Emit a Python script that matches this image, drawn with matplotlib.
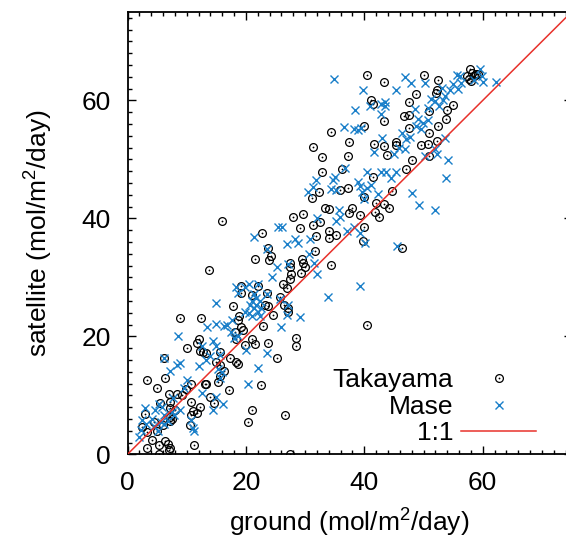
import matplotlib
matplotlib.use("Agg")
import matplotlib.pyplot as plt
from matplotlib.legend_handler import HandlerTuple
from matplotlib.ticker import MultipleLocator

plt.rcParams['font.family'] = ['Liberation Sans', 'DejaVu Sans']
plt.rcParams['mathtext.fontset'] = 'custom'
plt.rcParams['mathtext.rm'] = 'Liberation Sans'

# Takayama site (ground, satellite) pairs
takayama = [
    (40.4, 64.3), (50.0, 64.3), (43.3, 63.2), (52.5, 63.4), (57.8, 65.3),
    (58.2, 64.7), (58.8, 64.5), (59.2, 64.5), (58.6, 64.2), (58.0, 63.3),
    (57.7, 63.7), (57.3, 64.1), (41.1, 60.0), (41.5, 59.4), (52.1, 61.2),
    (52.3, 61.7), (48.8, 61.1), (47.5, 59.8), (50.9, 58.2), (55.0, 59.2),
    (54.0, 58.4), (43.4, 56.5), (46.7, 57.3), (47.6, 57.5), (47.5, 55.4),
    (53.8, 56.9), (52.5, 55.7), (51.0, 54.4), (39.9, 55.7), (34.3, 54.7),
    (37.4, 53.0), (41.6, 52.7), (43.3, 52.2), (45.4, 53.0), (45.4, 52.4),
    (49.5, 52.4), (50.8, 52.6), (52.2, 53.1), (51.0, 50.6), (48.0, 49.9),
    (47.1, 48.4), (43.9, 50.8), (31.4, 52.1), (32.9, 50.4), (37.3, 50.5),
    (36.3, 48.3), (32.9, 47.8), (41.4, 47.1), (44.6, 44.6), (35.9, 44.9),
    (37.3, 45.1), (32.3, 44.4), (31.1, 43.4), (40.0, 43.6), (41.9, 42.6),
    (43.3, 42.5), (44.2, 41.8), (33.3, 41.8), (34.0, 41.6), (37.9, 41.8),
    (37.4, 40.9), (39.3, 40.6), (41.8, 41.1), (42.4, 40.2), (29.7, 40.8),
    (28.0, 40.3), (29.1, 38.3), (31.3, 38.8), (32.5, 39.4), (31.9, 37.1),
    (34.0, 37.9), (34.0, 36.7), (35.3, 37.2), (39.9, 38.6), (39.7, 36.1),
    (46.4, 35.0), (16.0, 39.6), (22.8, 37.5), (23.8, 35.0), (21.5, 33.2),
    (24.3, 33.7), (23.9, 33.0), (27.4, 32.5), (27.4, 31.8), (29.4, 33.2),
    (29.7, 32.4), (29.9, 31.7), (29.3, 30.8), (31.7, 34.5), (34.4, 32.1),
    (13.7, 31.2), (27.7, 30.5), (27.5, 29.8), (26.2, 28.9), (26.9, 28.2),
    (25.8, 26.7), (26.5, 25.4), (27.1, 24.8), (27.1, 24.2), (19.1, 28.6),
    (19.2, 27.4), (17.9, 25.2), (21.1, 27.0), (22.1, 28.6), (23.5, 27.4),
    (23.3, 25.4), (23.8, 25.1), (24.5, 23.7), (22.9, 21.8), (18.9, 23.5),
    (18.6, 22.7), (19.1, 21.6), (19.5, 21.0), (18.2, 20.7), (18.3, 19.5),
    (19.8, 18.6), (21.1, 19.5), (21.5, 18.7), (23.7, 18.9), (25.2, 16.3),
    (28.5, 19.8), (28.5, 18.4), (8.9, 23.1), (12.4, 23.1), (12.0, 19.5),
    (11.7, 18.9), (10.0, 18.1), (12.3, 17.6), (12.7, 17.3), (13.2, 17.1),
    (15.6, 17.3), (15.0, 15.7), (15.6, 15.1), (17.3, 16.4), (18.3, 15.6),
    (18.6, 15.3), (6.1, 16.4), (6.3, 13.0), (3.3, 12.6), (5.0, 11.2),
    (5.5, 8.7), (7.0, 10.3), (8.4, 10.3), (7.1, 8.8), (7.2, 7.8),
    (7.1, 6.3), (7.1, 5.7), (9.2, 10.1), (9.8, 11.1), (10.7, 12.0),
    (10.7, 8.8), (11.0, 7.3), (10.7, 6.6), (11.7, 7.0), (12.3, 8.0),
    (10.6, 4.9), (11.2, 1.6), (13.2, 12.0), (13.1, 11.9), (14.0, 9.8),
    (14.6, 8.7), (15.3, 12.2), (15.6, 13.3), (16.3, 14.2), (17.1, 10.9),
    (22.6, 11.7), (21.1, 7.5), (20.3, 5.4), (26.6, 6.7), (3.0, 6.9),
    (2.5, 4.6), (3.3, 3.8), (4.1, 2.5), (3.3, 1.0), (5.3, 1.6),
    (6.3, 2.2), (6.8, 1.7), (7.1, 1.0), (7.0, 0.7), (5.3, 0.0),
    (27.4, 0.0), (40.4, 22.0), (4.5, 5.5), (5.0, 4.0), (6.0, 5.0),
    (7.5, 6.0), (8.0, 7.5),
]

# Mase site (ground, satellite) pairs
mase = [
    (34.8, 63.7), (46.8, 64.0), (47.9, 62.9), (50.3, 62.9), (39.7, 61.7),
    (45.4, 61.7), (42.9, 59.4), (43.5, 59.7), (43.5, 59.0), (41.0, 59.1),
    (38.5, 58.4), (42.8, 57.7), (48.5, 58.5), (53.1, 62.1), (54.4, 61.7),
    (55.0, 62.8), (55.6, 64.3), (56.2, 64.1), (56.4, 62.9), (55.9, 61.9),
    (59.6, 65.3), (59.9, 64.1), (60.1, 63.1), (62.2, 63.1), (58.6, 63.4),
    (51.3, 60.3), (52.0, 59.9), (50.8, 58.8), (52.7, 59.0), (53.3, 60.0),
    (53.7, 60.8), (50.7, 56.7), (48.8, 55.6), (49.6, 55.2), (49.9, 56.2),
    (49.1, 56.8), (46.4, 54.4), (47.1, 53.4), (47.7, 53.8), (43.0, 53.7),
    (45.9, 51.9), (46.8, 51.8), (45.0, 50.9), (36.5, 55.5), (38.3, 55.1),
    (38.9, 55.0), (39.4, 55.3), (41.7, 51.2), (52.0, 51.8), (52.3, 50.9),
    (50.2, 50.6), (54.1, 49.9), (53.8, 46.8), (53.7, 53.6), (48.1, 44.3),
    (49.3, 42.3), (52.0, 41.5), (45.6, 35.3), (42.8, 47.9), (43.7, 47.9),
    (44.5, 46.8), (45.3, 47.9), (40.5, 47.9), (38.9, 46.2), (39.3, 45.5),
    (39.6, 44.4), (39.9, 43.3), (40.5, 45.2), (41.1, 45.6), (42.3, 44.2),
    (35.0, 47.1), (34.7, 46.5), (34.4, 45.0), (35.3, 44.9), (36.7, 48.6),
    (30.5, 44.5), (31.9, 46.5), (31.4, 45.3), (35.7, 41.4), (35.9, 40.3),
    (35.3, 39.5), (37.1, 37.9), (38.3, 38.6), (39.3, 37.5), (40.2, 35.8),
    (39.3, 28.6), (33.9, 26.7), (32.0, 30.5), (32.0, 40.0), (30.9, 36.5),
    (30.6, 33.9), (31.5, 32.4), (28.3, 36.5), (28.8, 35.9), (26.9, 35.6),
    (27.1, 32.3), (25.4, 38.5), (26.1, 38.6), (21.4, 36.9), (23.6, 34.8),
    (25.3, 31.8), (24.4, 30.1), (23.6, 27.2), (25.8, 26.4), (27.1, 25.4),
    (27.0, 23.6), (29.2, 23.3), (25.9, 21.6), (22.0, 14.7), (23.5, 17.1),
    (20.1, 17.7), (20.3, 11.9), (15.0, 25.7), (13.5, 21.6), (15.0, 22.1),
    (16.3, 21.8), (16.8, 22.0), (17.7, 22.7), (18.3, 28.3), (18.6, 27.4),
    (19.8, 28.3), (20.5, 28.9), (22.0, 28.9), (21.4, 27.1), (21.1, 26.0),
    (21.7, 25.4), (22.3, 26.0), (21.4, 24.8), (22.0, 24.2), (20.5, 23.9),
    (21.1, 23.4), (22.3, 23.4), (19.8, 24.2), (20.7, 25.4), (22.6, 24.8),
    (21.7, 26.5), (17.4, 20.7), (18.0, 19.8), (18.6, 20.1), (8.5, 20.0),
    (8.8, 15.4), (6.2, 16.3), (15.0, 18.3), (14.4, 19.2), (12.6, 18.3),
    (12.0, 14.9), (13.2, 16.0), (15.6, 16.9), (15.3, 14.5), (16.0, 13.9),
    (13.9, 16.6), (15.6, 13.0), (16.1, 8.6), (14.4, 7.5), (15.0, 9.8),
    (12.6, 10.4), (10.0, 12.6), (9.5, 11.3), (11.0, 4.5), (11.2, 3.9),
    (10.7, 5.9), (8.9, 7.5), (7.9, 6.6), (7.6, 7.2), (6.8, 5.7),
    (5.9, 8.0), (4.7, 7.5), (7.7, 9.5), (7.1, 14.1), (8.3, 15.1),
    (5.3, 8.6), (2.9, 7.8), (2.5, 5.8), (3.2, 5.1), (4.4, 4.8),
    (5.1, 3.9), (5.6, 5.4), (1.9, 2.9), (6.2, 6.6), (6.2, 5.1),
    (4.1, 6.0), (2.2, 4.1),
]

takayama_ground = [p[0] for p in takayama]
takayama_sat = [p[1] for p in takayama]
mase_ground = [p[0] for p in mase]
mase_sat = [p[1] for p in mase]

one_to_one = [0, 75]

fig = plt.figure(figsize=(5.66, 5.44), dpi=100)
ax = fig.add_axes([127.5 / 566, (544 - 454.3) / 544, 444 / 566, 442.3 / 544])

circ, = ax.plot(takayama_ground, takayama_sat, 'o', ms=5.6, mfc='none',
                mec='black', mew=0.9, ls='none', zorder=3)
dot, = ax.plot(takayama_ground, takayama_sat, 'o', ms=1.3, mfc='black',
               mec='black', mew=0, ls='none', zorder=3)
cross, = ax.plot(mase_ground, mase_sat, 'x', ms=5.6, color='#1a7fc9',
                 mew=1.0, ls='none', zorder=4)
line, = ax.plot(one_to_one, one_to_one, color='#e8312b', lw=1.1, zorder=5)

ax.set_xlim(0, 75)
ax.set_ylim(0, 75)
ax.xaxis.set_major_locator(MultipleLocator(20))
ax.yaxis.set_major_locator(MultipleLocator(20))
ax.xaxis.set_minor_locator(MultipleLocator(2))
ax.yaxis.set_minor_locator(MultipleLocator(2))
ax.tick_params(which='both', direction='in', top=True, right=True,
               labelsize=19, width=1.0)
ax.tick_params(which='major', length=6, pad=12)
ax.tick_params(which='minor', length=3)
for s in ax.spines.values():
    s.set_linewidth(1.3)

ax.set_xlabel('ground (mol/m$^2$/day)', fontsize=19, labelpad=7)
ax.set_ylabel('satellite (mol/m$^2$/day)', fontsize=19, labelpad=20)

leg = ax.legend([(circ, dot), cross, line], ['Takayama', 'Mase', '1:1'],
                handler_map={tuple: HandlerTuple(ndivide=1, pad=0)},
                loc='lower right', bbox_to_anchor=(0.921, 0.02),
                frameon=False, markerfirst=False, fontsize=19,
                handlelength=2.84, handletextpad=0.3, labelspacing=0.1,
                borderpad=0, borderaxespad=0)

fig.savefig('out.png', dpi=100)
